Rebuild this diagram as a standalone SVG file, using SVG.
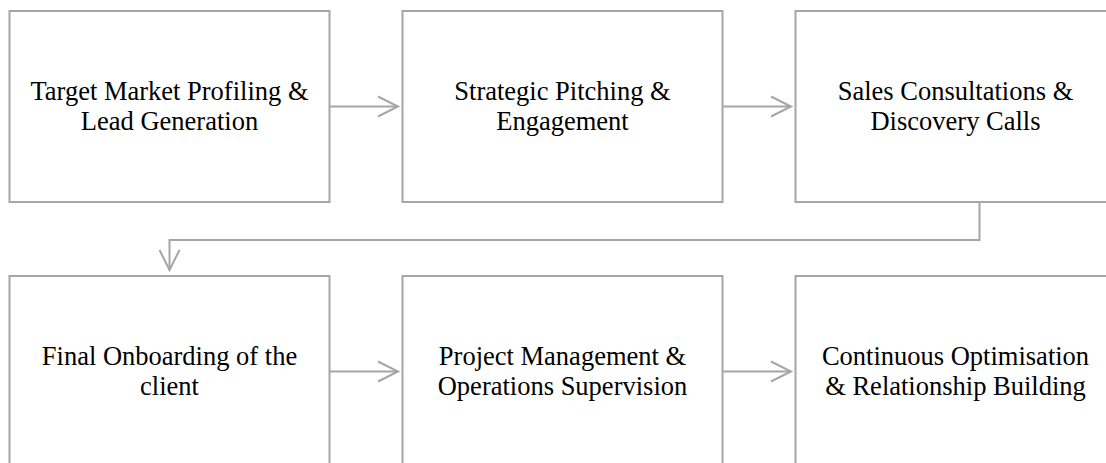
<svg xmlns="http://www.w3.org/2000/svg" width="1106" height="463" viewBox="0 0 1106 463">
<style>
.box{fill:#ffffff;stroke:#a6a6a6;stroke-width:2}
.lbl{font-family:"Liberation Serif","Times New Roman",serif;font-size:26.5px;fill:#000;text-anchor:middle}
.conn{fill:none;stroke:#a6a6a6;stroke-width:2}
</style>
<defs>
<marker id="arr" markerUnits="userSpaceOnUse" markerWidth="26" markerHeight="26" viewBox="0 0 26 26" refX="22" refY="12" orient="auto">
<path d="M2,2 L22,12 L2,22" fill="none" stroke="#a6a6a6" stroke-width="2"/>
</marker>
</defs>
<rect width="1106" height="463" fill="#ffffff"/>
<g id="connectors">
<line class="conn" x1="330" y1="106.5" x2="398" y2="106.5" marker-end="url(#arr)"/>
<line class="conn" x1="723" y1="106.5" x2="791" y2="106.5" marker-end="url(#arr)"/>
<polyline class="conn" points="979.5,202 979.5,240 169.5,240 169.5,270" marker-end="url(#arr)"/>
<line class="conn" x1="330" y1="371.5" x2="398" y2="371.5" marker-end="url(#arr)"/>
<line class="conn" x1="723" y1="371.5" x2="791" y2="371.5" marker-end="url(#arr)"/>
</g>
<g id="node1">
<rect class="box" x="9.5" y="11" width="320" height="191"/>
<text class="lbl" x="169.5" y="100">Target Market Profiling &amp;</text>
<text class="lbl" x="169.5" y="129.5">Lead Generation</text>
</g>
<g id="node2">
<rect class="box" x="402.5" y="11" width="320" height="191"/>
<text class="lbl" x="562.5" y="100">Strategic Pitching &amp;</text>
<text class="lbl" x="562.5" y="129.5">Engagement</text>
</g>
<g id="node3">
<rect class="box" x="795.5" y="11" width="320" height="191"/>
<text class="lbl" x="955.5" y="100">Sales Consultations &amp;</text>
<text class="lbl" x="955.5" y="129.5">Discovery Calls</text>
</g>
<g id="node4">
<rect class="box" x="9.5" y="276" width="320" height="191"/>
<text class="lbl" x="169.5" y="365">Final Onboarding of the</text>
<text class="lbl" x="169.5" y="394.5">client</text>
</g>
<g id="node5">
<rect class="box" x="402.5" y="276" width="320" height="191"/>
<text class="lbl" x="562.5" y="365">Project Management &amp;</text>
<text class="lbl" x="562.5" y="394.5">Operations Supervision</text>
</g>
<g id="node6">
<rect class="box" x="795.5" y="276" width="320" height="191"/>
<text class="lbl" x="955.5" y="365">Continuous Optimisation</text>
<text class="lbl" x="955.5" y="394.5">&amp; Relationship Building</text>
</g>
</svg>
